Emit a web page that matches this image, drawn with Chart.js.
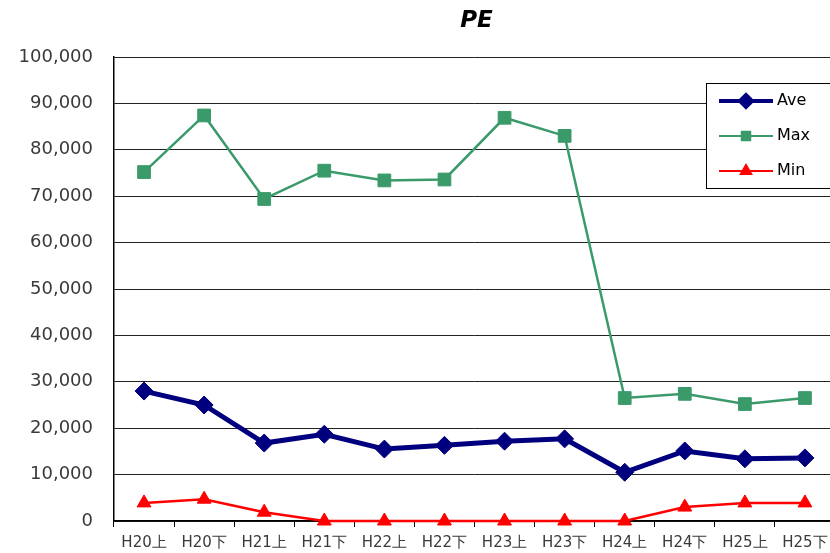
<!DOCTYPE html>
<html>
<head>
<meta charset="utf-8">
<script src="https://cdn.jsdelivr.net/npm/chart.js@4/dist/chart.umd.min.js"></script>
<style>
  html, body { margin: 0; padding: 0; background: #fff; overflow: hidden; }
  #wrap { position: relative; width: 845px; height: 553px; }
</style>
</head>
<body>
<div id="wrap"><canvas id="chart-pe"></canvas></div>
<script>
// half-year periods
const categories = ['H20上', 'H20下', 'H21上', 'H21下', 'H22上', 'H22下', 'H23上', 'H23下', 'H24上', 'H24下', 'H25上', 'H25下'];
const aveValues = [28000, 25000, 16800, 18700, 15500, 16300, 17200, 17700, 10500, 15100, 13400, 13600];
const maxValues = [75200, 87400, 69400, 75500, 73400, 73600, 86900, 83000, 26500, 27400, 25200, 26500];
const minValues = [3900, 4700, 1900, 0, 0, 0, 0, 0, 0, 3000, 3900, 3900];
const titleText = 'PE';

const navy = '#00007f';
const green = '#3a9a6a';
const red = '#ff0000';

// title centred over the plot area (the plot runs off the right edge)
const titlePlugin = {
  id: 'centredTitle',
  afterDraw(chart) {
    const ctx = chart.ctx;
    const a = chart.chartArea;
    ctx.save();
    ctx.font = 'italic bold 23px "DejaVu Sans"';
    ctx.fillStyle = '#000';
    ctx.textAlign = 'center';
    ctx.textBaseline = 'middle';
    ctx.fillText(titleText, (a.left + a.right) / 2 + 2, 21);
    ctx.restore();
  }
};

// boxed legend inside the plot, top right
const boxLegend = {
  id: 'boxLegend',
  afterDraw(chart) {
    const ctx = chart.ctx;
    const x0 = 706, y0 = 83, rowH = 35;
    ctx.save();
    ctx.fillStyle = '#fff';
    ctx.strokeStyle = '#000';
    ctx.lineWidth = 1;
    ctx.fillRect(x0, y0, 160, 105);
    ctx.strokeRect(x0 + 0.5, y0 + 0.5, 160, 105);
    chart.data.datasets.forEach((ds, i) => {
      const y = y0 + 18 + i * rowH;
      ctx.strokeStyle = ds.borderColor;
      ctx.lineWidth = i === 0 ? 4 : 2;
      ctx.beginPath();
      ctx.moveTo(719, y);
      ctx.lineTo(773, y);
      ctx.stroke();
      Chart.helpers.drawPoint(ctx, {
        pointStyle: ds.pointStyle,
        radius: 6,
        borderWidth: 1
      }, 746, y);
      ctx.fillStyle = ds.pointBackgroundColor;
      ctx.strokeStyle = ds.pointBorderColor;
      ctx.fill();
      ctx.fillStyle = '#000';
      ctx.font = '16px "DejaVu Sans"';
      ctx.textAlign = 'left';
      ctx.textBaseline = 'middle';
      ctx.fillText(ds.label, 777, y);
    });
    ctx.restore();
  }
};

new Chart(document.getElementById('chart-pe').getContext('2d'), {
  type: 'line',
  data: {
    labels: categories,
    datasets: [
      {
        label: 'Ave',
        data: aveValues,
        borderColor: navy,
        borderWidth: 5,
        pointStyle: 'rectRot',
        pointRadius: 9,
        pointBackgroundColor: navy,
        pointBorderColor: navy,
        pointBorderWidth: 1,
        tension: 0,
        clip: false
      },
      {
        label: 'Max',
        data: maxValues,
        borderColor: green,
        borderWidth: 2.5,
        pointStyle: 'rect',
        pointRadius: 9,
        pointBackgroundColor: green,
        pointBorderColor: green,
        pointBorderWidth: 1,
        tension: 0,
        clip: false
      },
      {
        label: 'Min',
        data: minValues,
        borderColor: red,
        borderWidth: 2.5,
        pointStyle: 'triangle',
        pointRadius: 8,
        pointBackgroundColor: red,
        pointBorderColor: red,
        pointBorderWidth: 1,
        tension: 0,
        clip: false
      }
    ]
  },
  options: {
    responsive: true,
    maintainAspectRatio: false,
    animation: false,
    layout: { padding: { top: 57, right: 5, left: 0, bottom: 0 } },
    plugins: {
      legend: { display: false },
      title: { display: false },
      tooltip: { enabled: false }
    },
    scales: {
      x: {
        offset: true,
        grid: { offset: true, drawOnChartArea: false, tickLength: 6, color: '#000', lineWidth: 1 },
        border: { color: '#000', width: 1.5 },
        ticks: { color: '#3a3a3a', font: { family: 'DejaVu Sans', size: 15 }, padding: 7, maxRotation: 0, autoSkip: false },
        afterFit(scale) { scale.height = 32; }
      },
      y: {
        min: 0,
        max: 100000,
        ticks: {
          stepSize: 10000,
          color: '#3a3a3a',
          padding: 21,
          font: { family: 'DejaVu Sans', size: 18 },
          callback: v => v.toLocaleString('en-US')
        },
        grid: { color: '#222', lineWidth: 1, drawTicks: false },
        border: { color: '#000', width: 1.5 },
        afterFit(scale) { scale.width = 114; }
      }
    }
  },
  plugins: [titlePlugin, boxLegend]
});
</script>
</body>
</html>
